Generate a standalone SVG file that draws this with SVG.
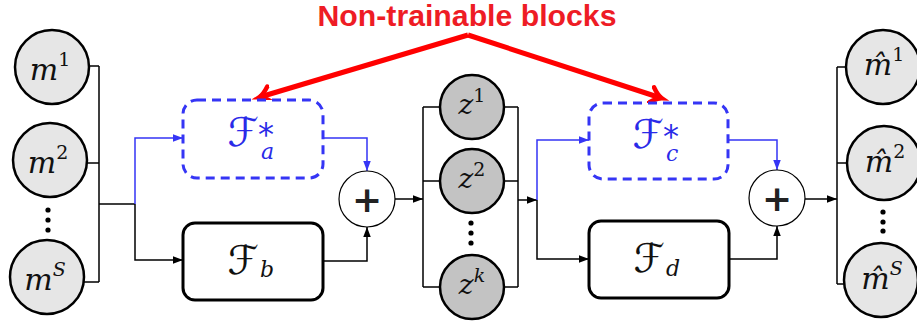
<svg xmlns="http://www.w3.org/2000/svg" width="917" height="324" viewBox="0 0 917 324">
<style>
.ln{fill:none;stroke:#000;stroke-width:1.5}
.bl{fill:none;stroke:#3535f5;stroke-width:1.5}
.mc{fill:#e6e6e6;stroke:#000;stroke-width:2.5}
.zc{fill:#c3c3c3;stroke:#000;stroke-width:2.5}
.pc{fill:#fff;stroke:#000;stroke-width:1.2}
.dash{fill:#fff;stroke:#3535f5;stroke-width:3;stroke-dasharray:9 6}
.box{fill:#fff;stroke:#000;stroke-width:3}
.mi{font-family:"DejaVu Serif",serif;font-style:italic;font-size:30px;fill:#111}
.zi{font-family:"DejaVu Serif",serif;font-style:italic;font-size:28px;fill:#111}
.sup{font-style:normal;font-size:19px}
.supi{font-size:19px}
.F{font-family:"DejaVu Serif","DejaVu Sans",serif;font-size:40px}
.sub{font-family:"DejaVu Serif",serif;font-style:italic;font-size:22px}
.star{font-family:"DejaVu Sans",sans-serif;font-size:32px}
.blue{fill:#2a2ae8}
.blk{fill:#111}
.plus{font-family:"DejaVu Sans",sans-serif;font-weight:bold;font-size:36px;fill:#222}
.dot{fill:#000}
</style>
<defs>
<marker id="ak" markerUnits="userSpaceOnUse" markerWidth="10" markerHeight="8" viewBox="0 0 8 6" refX="8" refY="3" orient="auto"><path d="M0,0 L8,3 L0,6 z" fill="#000"/></marker>
<marker id="ab" markerUnits="userSpaceOnUse" markerWidth="10" markerHeight="8" viewBox="0 0 8 6" refX="8" refY="3" orient="auto"><path d="M0,0 L8,3 L0,6 z" fill="#3535f5"/></marker>
<marker id="ar" markerUnits="userSpaceOnUse" markerWidth="24" markerHeight="24" viewBox="-12 -12 24 24" refX="0" refY="0" orient="auto"><path d="M-10,-8 Q-4,-1.5 1,0 Q-4,1.5 -10,8" fill="none" stroke="#ff0000" stroke-width="4.5" stroke-linecap="round"/></marker>
</defs>

<g id="title">
<text x="467" y="26" text-anchor="middle" font-family="Liberation Sans, Arial, sans-serif" font-weight="bold" font-size="29" fill="#ee1c25" textLength="299" lengthAdjust="spacingAndGlyphs">Non-trainable blocks</text>
</g>

<g id="connectors">
<path d="M468,35 L260,97" fill="none" stroke="#ff0000" stroke-width="5" marker-end="url(#ar)"/>
<path d="M468,35 L661,98" fill="none" stroke="#ff0000" stroke-width="5" marker-end="url(#ar)"/>
<path class="ln" d="M89,66 H99 M87,163 H99 M84,282 H99 M99,66 V282 M99,204 H135"/>
<path class="ln" d="M135,204 V260 H183" marker-end="url(#ak)"/>
<path class="bl" d="M135,204 V138 H183" marker-end="url(#ab)"/>
<path class="bl" d="M323,138 H367 V171" marker-end="url(#ab)"/>
<path class="ln" d="M323,261 H367 V227" marker-end="url(#ak)"/>
<path class="ln" d="M395,199 H423" marker-end="url(#ak)"/>
<path class="ln" d="M423,107 V287 M423,107 H440 M423,181 H440 M423,287 H440 M504,107 H518 M504,181 H518 M504,287 H518 M518,107 V287"/>
<path class="ln" d="M518,200 H537" marker-end="url(#ak)"/>
<path class="ln" d="M537,200 V259 H589" marker-end="url(#ak)"/>
<path class="bl" d="M537,200 V140 H589" marker-end="url(#ab)"/>
<path class="bl" d="M728,140 H777 V170" marker-end="url(#ab)"/>
<path class="ln" d="M729,259 H777 V226" marker-end="url(#ak)"/>
<path class="ln" d="M805,199 H837" marker-end="url(#ak)"/>
<path class="ln" d="M837,67 V284 M837,67 H846 M837,163 H847 M837,284 H844"/>
</g>

<g id="m1"><circle class="mc" cx="52" cy="67" r="37"/><text class="mi" x="50" y="80" text-anchor="middle">m<tspan class="sup" dy="-14">1</tspan></text></g>
<g id="m2"><circle class="mc" cx="50" cy="160" r="37"/><text class="mi" x="48" y="173" text-anchor="middle">m<tspan class="sup" dy="-14">2</tspan></text></g>
<g id="mdots"><circle class="dot" cx="48" cy="210" r="2.6"/><circle class="dot" cx="48" cy="220" r="2.6"/><circle class="dot" cx="48" cy="230" r="2.6"/></g>
<g id="mS"><circle class="mc" cx="47" cy="277" r="37"/><text class="mi" x="45" y="290" text-anchor="middle">m<tspan class="supi" dy="-14">S</tspan></text></g>

<g id="Fa"><rect class="dash" x="183" y="100" width="140" height="78" rx="14"/>
<text class="F blue" x="259" y="146" text-anchor="end">ℱ</text>
<text class="sub blue" x="261" y="159">a</text>
<text class="star blue" x="258" y="145">*</text></g>
<g id="Fb"><rect class="box" x="183" y="223" width="140" height="77" rx="12"/>
<text class="F blk" x="259" y="274" text-anchor="end">ℱ</text>
<text class="sub blk" x="260" y="277">b</text></g>
<g id="plus1"><circle class="pc" cx="367" cy="199" r="28"/><text class="plus" x="367" y="212" text-anchor="middle">+</text></g>

<g id="z1"><circle class="zc" cx="472" cy="107" r="32"/><text class="zi" x="472" y="114" text-anchor="middle">z<tspan class="sup" dy="-12">1</tspan></text></g>
<g id="z2"><circle class="zc" cx="472" cy="181" r="32"/><text class="zi" x="472" y="188" text-anchor="middle">z<tspan class="sup" dy="-12">2</tspan></text></g>
<g id="zdots"><circle class="dot" cx="471" cy="223" r="2.6"/><circle class="dot" cx="471" cy="233" r="2.6"/><circle class="dot" cx="471" cy="243" r="2.6"/></g>
<g id="zk"><circle class="zc" cx="472" cy="287" r="32"/><text class="zi" x="472" y="294" text-anchor="middle">z<tspan class="supi" dy="-12">k</tspan></text></g>

<g id="Fc"><rect class="dash" x="589" y="103" width="139" height="76" rx="14"/>
<text class="F blue" x="664" y="148" text-anchor="end">ℱ</text>
<text class="sub blue" x="666" y="161">c</text>
<text class="star blue" x="663" y="147">*</text></g>
<g id="Fd"><rect class="box" x="589" y="221" width="140" height="77" rx="12"/>
<text class="F blk" x="665" y="272" text-anchor="end">ℱ</text>
<text class="sub blk" x="666" y="276">d</text></g>
<g id="plus2"><circle class="pc" cx="777" cy="198" r="28"/><text class="plus" x="777" y="211" text-anchor="middle">+</text></g>

<g id="mh1"><circle class="mc" cx="883" cy="67" r="37"/><text class="mi" x="884" y="75" text-anchor="middle">m̂<tspan class="sup" dy="-14">1</tspan></text></g>
<g id="mh2"><circle class="mc" cx="884" cy="163" r="37"/><text class="mi" x="885" y="172" text-anchor="middle">m̂<tspan class="sup" dy="-14">2</tspan></text></g>
<g id="mhdots"><circle class="dot" cx="883" cy="212" r="2.6"/><circle class="dot" cx="883" cy="222" r="2.6"/><circle class="dot" cx="883" cy="231" r="2.6"/></g>
<g id="mhS"><circle class="mc" cx="881" cy="280" r="37"/><text class="mi" x="882" y="289" text-anchor="middle">m̂<tspan class="supi" dy="-14">S</tspan></text></g>
</svg>
